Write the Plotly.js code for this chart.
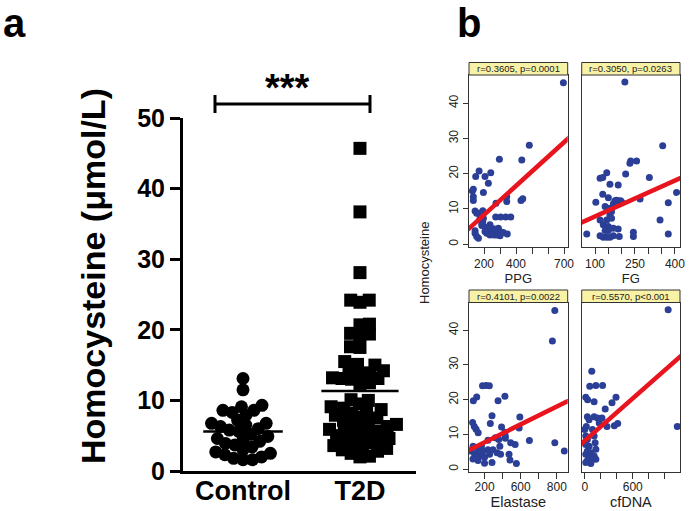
<!DOCTYPE html>
<html>
<head>
<meta charset="utf-8">
<script src="https://cdn.plot.ly/plotly-3.0.1.min.js"></script>
<style>html,body{margin:0;padding:0;background:#fff;}#chart{width:697px;height:511px;}</style>
</head>
<body>
<div id="chart"></div>
<script>
// ---------- Panel a: homocysteine by group ----------
const groups = ['Control', 'T2D'];
const controlHcy = [13.1, 11.5, 9.3, 8.6, 8.3, 8.6, 9.1, 7.9, 7.2,
  6.75, 6.3, 5.8, 5.6, 6.0, 6.5, 6.75,
  4.9, 4.2, 3.4, 2.7, 2.3, 2.5, 3.0, 3.7, 4.6,
  1.6, 1.6, 2.0, 3.9, 4.4, 5.2, 1.8];
const t2dHcy = [45.7, 36.7, 28.1, 24.2, 23.9, 24.2, 20.8, 20.7, 19.5, 19.3, 19.4,
  17.6, 17.5, 15.5, 15.0, 15.1, 14.3, 14.2, 13.8, 13.9, 13.1, 13.0, 13.2, 13.1, 12.4, 12.5,
  10.1, 10.0, 9.1, 8.6, 8.7, 7.5, 7.6, 6.8, 6.9, 6.3, 5.8, 5.9, 5.3, 5.4, 4.6, 4.7,
  3.9, 4.0, 3.2, 3.3, 2.5, 9.5, 8.9, 8.2, 7.9, 7.2, 6.6, 6.1, 5.6, 5.0, 4.4, 4.2,
  3.6, 3.0, 2.8, 2.1, 2.0];
const yTicksA = [0, 10, 20, 30, 40, 50];
const sigLabel = '***';

// ---------- Panel b: correlations ----------
const ppg = [696, 483, 296, 436, 169, 242, 148, 206, 227, 127, 196, 133, 133, 342, 342, 431, 442, 275,
  144, 165, 192, 273, 304, 336, 367, 175, 192, 186, 206, 144, 154, 165, 227, 237, 217, 269, 279, 290,
  300, 262, 250, 133, 154, 196, 186, 237, 206, 144, 320, 345, 300, 260];
const hcyPPG = [45.8, 28.1, 24.1, 23.9, 20.8, 20.3, 19.2, 19.2, 17.3, 15.1, 14.7, 13.5, 12.4, 13.5, 12.1, 12.4, 12.9, 11.6,
  9.4, 8.8, 9.5, 7.7, 7.7, 7.7, 7.7, 7.2, 6.4, 5.3, 4.8, 3.8, 2.2, 1.7, 4.1, 2.6, 3.1, 3.6, 2.6, 4.5,
  3.6, 2.6, 3.0, 15.6, 8.8, 7.4, 6.0, 5.5, 3.6, 3.1, 3.3, 2.9, 2.4, 4.4];
const fg = [212, 354, 234, 256, 231, 144, 119, 129, 215, 304, 156, 187, 406, 129, 150, 269, 175, 187, 196, 169,
  103, 375, 138, 156, 162, 156, 144, 162, 119, 344, 131, 150, 169, 187, 244, 244, 69, 375, 119, 131, 144, 156,
  169, 191, 138, 150, 200, 180];
const hcyFG = [46.0, 27.9, 23.6, 23.6, 23.0, 20.3, 18.7, 18.9, 19.9, 18.9, 17.0, 16.8, 14.7, 14.2, 13.2, 12.8, 12.3, 12.3, 12.3, 11.5,
  11.9, 11.8, 10.7, 10.2, 9.3, 8.3, 6.9, 7.4, 6.9, 6.9, 5.5, 5.0, 4.5, 4.3, 3.4, 2.2, 2.9, 2.9, 2.4, 2.0, 2.0, 2.0,
  2.4, 2.2, 3.9, 3.9, 12.0, 12.5];
const elastase = [783, 763, 183, 214, 240, 135, 107, 369, 312, 262, 493, 101, 115, 248, 341, 487, 130, 147, 369, 372,
  372, 290, 318, 228, 572, 783, 454, 417, 327, 304, 333, 403, 862, 411, 464, 262, 200, 105, 146, 188, 228, 118,
  160, 200, 104, 146, 242, 270, 174, 90, 130];
const hcyEla = [45.7, 36.9, 24.0, 24.1, 24.0, 20.8, 19.7, 21.0, 19.7, 15.4, 15.0, 13.4, 12.3, 13.1, 12.1, 11.8, 11.5, 10.5, 10.6, 9.5,
  8.9, 9.0, 8.5, 8.3, 8.2, 7.6, 7.1, 7.6, 6.6, 4.7, 4.3, 4.3, 5.2, 2.6, 1.6, 1.9, 1.7, 6.6, 5.6, 5.2, 5.6, 4.3,
  3.8, 3.4, 2.9, 2.5, 4.3, 5.6, 6.6, 5.2, 3.4];
const cfdna = [1043, 1157, 88, 13, 36, 63, 139, 223, 117, 256, 341, 391, 412, 370, 278, 33, 54, 117, 160, 181, 215,
  20, 0, 97, 117, 130, 13, 33, 13, 54, 33, 76, 13, 54, 97, 33, 76, 139, 13, 118, 139];
const hcyCf = [45.9, 12.3, 28.2, 20.7, 20.0, 23.9, 24.1, 24.1, 19.4, 17.3, 19.1, 20.7, 13.1, 12.5, 12.3, 15.1, 14.2, 15.1, 14.7, 13.3, 14.7,
  12.3, 11.4, 11.4, 9.5, 7.6, 9.5, 8.5, 7.1, 6.6, 5.2, 4.7, 4.3, 3.4, 2.8, 2.5, 1.6, 2.8, 1.9, 3.8, 5.7];
// regression lines: [intercept, slope]
const fitPPG = [0.09, 0.0412];
const fitFG = [4.5, 0.0339];
const fitEla = [4.28, 0.01722];
const fitCf = [8.2, 0.0203];
const stripLabels = ['r=0.3605, p=0.0001', 'r=0.3050, p=0.0263', 'r=0.4101, p=0.0022', 'r=0.5570, p<0.001'];
const xTitles = ['PPG', 'FG', 'Elastase', 'cfDNA'];
const yTicksB = [0, 10, 20, 30, 40];

// ---------- helpers ----------
const W = 697, H = 511;
const fx = p => p / W, fy = p => 1 - p / H;
const FONT = 'Liberation Sans, Arial, sans-serif';

// simple beeswarm: lowest values sit in the middle, later ones pushed sideways
function swarm(vals, center, pxPerY, pxPerX, d) {
  const sorted = vals.slice().sort((a, b) => a - b);
  const placed = [], xs = [], ys = [];
  let flip = 1;
  for (const v of sorted) {
    const y = v * pxPerY;
    const forb = [];
    for (const p of placed) {
      const dy = Math.abs(p.y - y);
      if (dy < d) { const w = Math.sqrt(d * d - dy * dy); forb.push([p.x - w, p.x + w]); }
    }
    const cands = [0];
    forb.forEach(f => cands.push(f[0], f[1]));
    cands.sort((a, b) => (Math.abs(a) - Math.abs(b)) || (flip * (b - a)));
    let x = 0;
    for (const c of cands) {
      if (forb.every(f => c <= f[0] + 1e-9 || c >= f[1] - 1e-9)) { x = c; break; }
    }
    if (x !== 0) flip = -flip;
    placed.push({ x, y });
    xs.push(center + x / pxPerX); ys.push(v);
  }
  return { xs, ys };
}
const mean = a => a.reduce((s, v) => s + v, 0) / a.length;

const pxPerY = 7.06, pxPerX = 117;
const sC = swarm(controlHcy, 0, pxPerY, pxPerX, 9.5);
const sT = swarm(t2dHcy, 1, pxPerY, pxPerX, 9.5);

const traces = [
  { x: sC.xs, y: sC.ys, type: 'scatter', mode: 'markers', xaxis: 'x', yaxis: 'y', cliponaxis: false,
    marker: { symbol: 'circle', size: 13, color: '#000' }, hoverinfo: 'y', showlegend: false },
  { x: sT.xs, y: sT.ys, type: 'scatter', mode: 'markers', xaxis: 'x', yaxis: 'y', cliponaxis: false,
    marker: { symbol: 'square', size: 13, color: '#000' }, hoverinfo: 'y', showlegend: false },
  { x: [-0.34, 0.34], y: [mean(controlHcy), mean(controlHcy)], type: 'scatter', mode: 'lines', xaxis: 'x', yaxis: 'y',
    line: { color: '#000', width: 2.5 }, showlegend: false },
  { x: [0.67, 1.33], y: [mean(t2dHcy), mean(t2dHcy)], type: 'scatter', mode: 'lines', xaxis: 'x', yaxis: 'y',
    line: { color: '#000', width: 2.5 }, showlegend: false }
];

const dotCol = '#2b3f97', lineCol = '#e8141e';
const panels = [
  { x: ppg, y: hcyPPG, fit: fitPPG, range: [106, 723], ax: '2' },
  { x: fg, y: hcyFG, fit: fitFG, range: [50, 419], ax: '3' },
  { x: elastase, y: hcyEla, fit: fitEla, range: [71, 890], ax: '4' },
  { x: cfdna, y: hcyCf, fit: fitCf, range: [-38, 1191], ax: '5' }
];
panels.forEach(p => {
  traces.push({ x: p.x, y: p.y, type: 'scatter', mode: 'markers', xaxis: 'x' + p.ax, yaxis: 'y' + p.ax,
    marker: { size: 7, color: dotCol }, showlegend: false });
  const lx = [p.range[0] - 50, p.range[1] + 50];
  traces.push({ x: lx, y: lx.map(v => p.fit[0] + p.fit[1] * v), type: 'scatter', mode: 'lines',
    xaxis: 'x' + p.ax, yaxis: 'y' + p.ax, line: { color: lineCol, width: 4.5 }, showlegend: false });
});

const colX = [[469, 567.7], [581.7, 680]];
const rowY = [[75, 246.7], [302.5, 471.5]];
const boldA = { family: FONT, color: '#000', weight: 'bold' };

const layout = {
  width: W, height: H, margin: { l: 0, r: 0, t: 0, b: 0 },
  paper_bgcolor: '#fff', plot_bgcolor: '#fff', showlegend: false,
  font: { family: FONT, color: '#222' },
  xaxis: { domain: [fx(183), fx(416)], range: [-0.513, 1.479], anchor: 'y',
    tickmode: 'array', tickvals: [0, 1], ticktext: groups, ticks: '', ticklabelstandoff: -6,
    showline: true, linewidth: 3, linecolor: '#000', zeroline: false, showgrid: false,
    tickfont: Object.assign({ size: 27 }, boldA) },
  yaxis: { domain: [fy(471), fy(118)], range: [0, 50], anchor: 'x',
    tickmode: 'array', tickvals: yTicksA, ticks: 'outside', ticklen: 10, tickwidth: 3, tickcolor: '#000',
    showline: true, linewidth: 3, linecolor: '#000', zeroline: false, showgrid: false,
    tickfont: Object.assign({ size: 25 }, boldA) },
  shapes: [], annotations: []
};

const xtitleSizes = [13, 13, 14.5, 14.5];
const xtitleStandoff = [2, 2, 1, 1];
const tickSets = [
  { vals: [200, 300, 400, 500, 600, 700], text: ['200', '', '400', '', '', '700'] },
  { vals: [100, 150, 200, 250, 300, 350, 400], text: ['100', '', '', '250', '', '', '400'] },
  { vals: [200, 350, 500, 650, 800], text: ['200', '', '600', '', '800'] },
  { vals: [0, 200, 400, 600, 800, 1000, 1200], text: ['0', '', '', '600', '', '', '1200'] }
];
panels.forEach((p, i) => {
  const col = i % 2, row = Math.floor(i / 2);
  const xd = colX[col], yd = rowY[row];
  layout['xaxis' + p.ax] = {
    domain: [fx(xd[0]), fx(xd[1])], range: p.range, anchor: 'y' + p.ax,
    tickmode: 'array', tickvals: tickSets[i].vals, ticktext: tickSets[i].text,
    ticks: 'outside', ticklen: 6, tickcolor: '#333', showline: true, mirror: true, linecolor: '#333', linewidth: 1,
    zeroline: false, showgrid: false, tickfont: { size: 12, color: '#222' }, ticklabelstandoff: row === 1 ? -2 : 0,
    title: { text: xTitles[i], font: { size: xtitleSizes[i], color: '#222' }, standoff: xtitleStandoff[i] }
  };
  layout['yaxis' + p.ax] = {
    domain: [fy(yd[1]), fy(yd[0])], range: [-0.7, 48], anchor: 'x' + p.ax,
    tickmode: 'array', tickvals: yTicksB, ticks: col === 0 ? 'outside' : '', ticklen: 5, tickcolor: '#333',
    showticklabels: col === 0, tickangle: -90, tickfont: { size: 12, color: '#222' },
    showline: true, mirror: true, linecolor: '#333', linewidth: 1, zeroline: false, showgrid: false
  };
  layout.shapes.push({ type: 'rect', xref: 'paper', yref: 'paper', x0: fx(xd[0]), x1: fx(xd[1]),
    y0: fy(yd[0]), y1: fy(yd[0] - 12.5), fillcolor: '#f8f2a6', line: { color: '#333', width: 1 } });
  layout.annotations.push({ xref: 'paper', yref: 'paper', x: fx((xd[0] + xd[1]) / 2), y: fy(yd[0] - 6.25),
    text: stripLabels[i], showarrow: false, font: { size: 9.5, color: '#222' }, xanchor: 'center', yanchor: 'middle' });
});

// significance bracket
const bx0 = fx(215), bx1 = fx(370), by = fy(104);
layout.shapes.push(
  { type: 'line', xref: 'paper', yref: 'paper', x0: bx0, x1: bx1, y0: by, y1: by, line: { color: '#000', width: 3 } },
  { type: 'line', xref: 'paper', yref: 'paper', x0: bx0, x1: bx0, y0: fy(95), y1: fy(113), line: { color: '#000', width: 3 } },
  { type: 'line', xref: 'paper', yref: 'paper', x0: bx1, x1: bx1, y0: fy(95), y1: fy(113), line: { color: '#000', width: 3 } }
);
layout.annotations.push(
  { xref: 'paper', yref: 'paper', x: fx(93), y: fy(276), text: 'Homocysteine (μmol/L)', textangle: -90, showarrow: false,
    font: Object.assign({ size: 34 }, boldA), xanchor: 'center', yanchor: 'middle' },
  { xref: 'paper', yref: 'paper', x: fx(287), y: fy(88), text: sigLabel, showarrow: false,
    font: Object.assign({ size: 38 }, boldA), xanchor: 'center', yanchor: 'middle' },
  { xref: 'paper', yref: 'paper', x: fx(2), y: fy(0), text: 'a', showarrow: false, borderpad: 0,
    font: Object.assign({ size: 40 }, boldA), xanchor: 'left', yanchor: 'top' },
  { xref: 'paper', yref: 'paper', x: fx(456), y: fy(0), text: 'b', showarrow: false, borderpad: 0,
    font: Object.assign({ size: 40 }, boldA), xanchor: 'left', yanchor: 'top' },
  { xref: 'paper', yref: 'paper', x: fx(424), y: fy(263), text: 'Homocysteine', textangle: -90, showarrow: false,
    font: { size: 13, color: '#222' }, xanchor: 'center', yanchor: 'middle' }
);

Plotly.newPlot('chart', traces, layout, { displayModeBar: false, staticPlot: true });
</script>
</body>
</html>
